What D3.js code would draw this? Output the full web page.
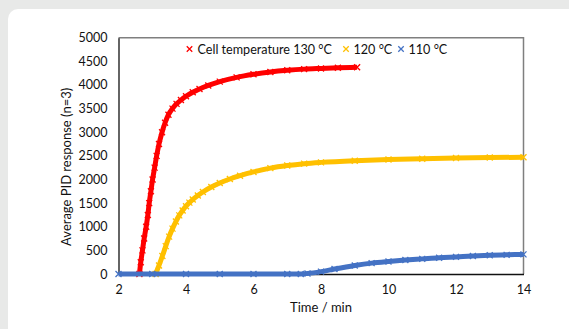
<!DOCTYPE html>
<html>
<head>
<meta charset="utf-8">
<script src="https://cdn.jsdelivr.net/npm/d3@7"></script>
<style>
  body { margin: 0; background: #e8e9e8; }
  svg { display: block; font-family: Lato, 'Open Sans', sans-serif; }
</style>
</head>
<body>
<svg id="vis"></svg>
<script>
const plotWidth = 569;
const plotHeight = 329;
const margin = {left: 118.5, right: 45.5, top: 37.7, bottom: 55};

// tick labels
const xTicks = [2, 4, 6, 8, 10, 12, 14];
const yTicks = [0, 500, 1000, 1500, 2000, 2500, 3000, 3500, 4000, 4500, 5000];

// series: [time (min), average PID response]
const series130 = [
    [2.62, 0], [2.66, 250], [2.71, 500], [2.76, 750], [2.82, 1000], [2.87, 1250],
    [2.91, 1500], [2.96, 1750], [3.01, 2000], [3.07, 2250], [3.13, 2500], [3.2, 2750],
    [3.29, 3000], [3.38, 3200], [3.48, 3370], [3.6, 3500], [3.72, 3600], [3.85, 3680],
    [4.0, 3760], [4.2, 3845], [4.4, 3915], [4.66, 3990], [5.0, 4070], [5.5, 4160],
    [6.0, 4225], [6.5, 4275], [7.0, 4310], [7.5, 4335], [8.0, 4350], [8.5, 4363],
    [9.07, 4375]
];
const series120 = [
    [3.1, 0], [3.2, 180], [3.3, 380], [3.4, 590], [3.5, 790], [3.6, 960],
    [3.7, 1110], [3.8, 1240], [3.9, 1345], [4.0, 1435], [4.1, 1510], [4.2, 1575],
    [4.35, 1660], [4.5, 1735], [4.75, 1840], [5.0, 1925], [5.3, 2010], [5.6, 2080],
    [6.0, 2160], [6.5, 2240], [7.0, 2295], [7.5, 2335], [8.0, 2362], [9.0, 2398],
    [10.0, 2422], [11.0, 2440], [12.0, 2455], [13.0, 2465], [14.0, 2470]
];
const series110 = [
    [2.0, 0], [3.0, 0], [4.0, 0], [5.0, 0], [6.0, 0], [7.0, 0], [7.4, 0],
    [7.6, 10], [8.0, 50], [8.4, 105], [9.0, 180], [9.5, 230], [10.0, 265],
    [10.5, 295], [11.0, 320], [11.5, 345], [12.0, 362], [12.5, 380], [13.0, 395],
    [13.5, 405], [14.0, 415]
];

const legendLabels = ['Cell temperature 130 °C', '120 °C', '110 °C'];
const colors = ['#ff0000', '#ffc000', '#4472c4'];

const svg = d3.select('#vis')
            .attr('width', plotWidth)
            .attr('height', plotHeight);


function main() {
    // white card
    svg.append('rect')
        .attr('x', 8).attr('y', 9)
        .attr('width', plotWidth + 20).attr('height', plotHeight + 20)
        .attr('rx', 10)
        .style('fill', '#fff');

    const x = d3.scaleLinear().domain([2, 14])
                .range([margin.left, plotWidth - margin.right]);
    const y = d3.scaleLinear().domain([0, 5000])
                .range([plotHeight - margin.bottom, margin.top]);

    drawFrame(x, y);
    drawSeries(series130, x, y, colors[0]);
    drawSeries(series120, x, y, colors[1]);
    drawSeries(series110, x, y, colors[2]);
    drawLegend();
}


function drawFrame(x, y) {
    const x0 = x.range()[0], x1 = x.range()[1];
    const y0 = y.range()[0], y1 = y.range()[1];

    // top and right border in gray
    svg.append('path')
        .attr('d', `M${x0},${y1}H${x1}V${y0}`)
        .style('fill', 'none')
        .style('stroke', '#7f7f7f')
        .style('stroke-width', 1.5);

    const xAxis = svg.append('g')
        .attr('transform', `translate(0,${y0})`)
        .call(d3.axisBottom(x).tickValues(xTicks).tickFormat(d3.format('d'))
                .tickSize(0).tickPadding(11));
    const yAxis = svg.append('g')
        .attr('transform', `translate(${x0},0)`)
        .call(d3.axisLeft(y).tickValues(yTicks).tickFormat(d3.format('d'))
                .tickSize(0).tickPadding(11));
    [xAxis, yAxis].forEach(g => {
        g.select('.domain').style('stroke', '#111').style('stroke-width', 1.3);
        g.selectAll('text')
            .style('font-family', 'Lato, sans-serif')
            .style('font-size', '12.5px')
            .style('fill', '#111');
    });

    svg.append('text')
        .attr('x', (x0 + x1) / 2)
        .attr('y', 312)
        .attr('text-anchor', 'middle')
        .style('font-size', '13px')
        .style('fill', '#111')
        .text('Time / min');

    svg.append('text')
        .attr('transform', `translate(71,${(y0 + y1) / 2 + 11}) rotate(-90)`)
        .attr('text-anchor', 'middle')
        .style('font-size', '13px')
        .style('fill', '#111')
        .text('Average PID response (n=3)');
}


function cross(g, cx, cy, size, color) {
    const s = size / 2;
    g.append('path')
        .attr('d', `M${cx - s},${cy - s}L${cx + s},${cy + s}M${cx - s},${cy + s}L${cx + s},${cy - s}`)
        .style('stroke', color)
        .style('stroke-width', 1.3)
        .style('fill', 'none');
}


function drawSeries(data, x, y, color) {
    const g = svg.append('g');
    const line = d3.line()
                    .x(d => x(d[0]))
                    .y(d => y(d[1]))
                    .curve(d3.curveMonotoneX);
    g.append('path')
        .attr('d', line(data))
        .style('fill', 'none')
        .style('stroke', color)
        .style('stroke-width', 5)
        .style('stroke-linecap', 'butt');
    data.forEach(d => cross(g, x(d[0]), y(d[1]), 6, color));
}


function drawLegend() {
    const g = svg.append('g')
        .style('font-size', '12.6px');
    const markX = [189.5, 346, 401];
    const textX = [197.5, 353.5, 408.5];
    legendLabels.forEach((label, i) => {
        cross(g, markX[i], 49, 5.5, colors[i]);
        g.append('text')
            .attr('x', textX[i])
            .attr('y', 53.5)
            .style('fill', '#111')
            .text(label);
    });
}


main()
</script>
</body>
</html>
